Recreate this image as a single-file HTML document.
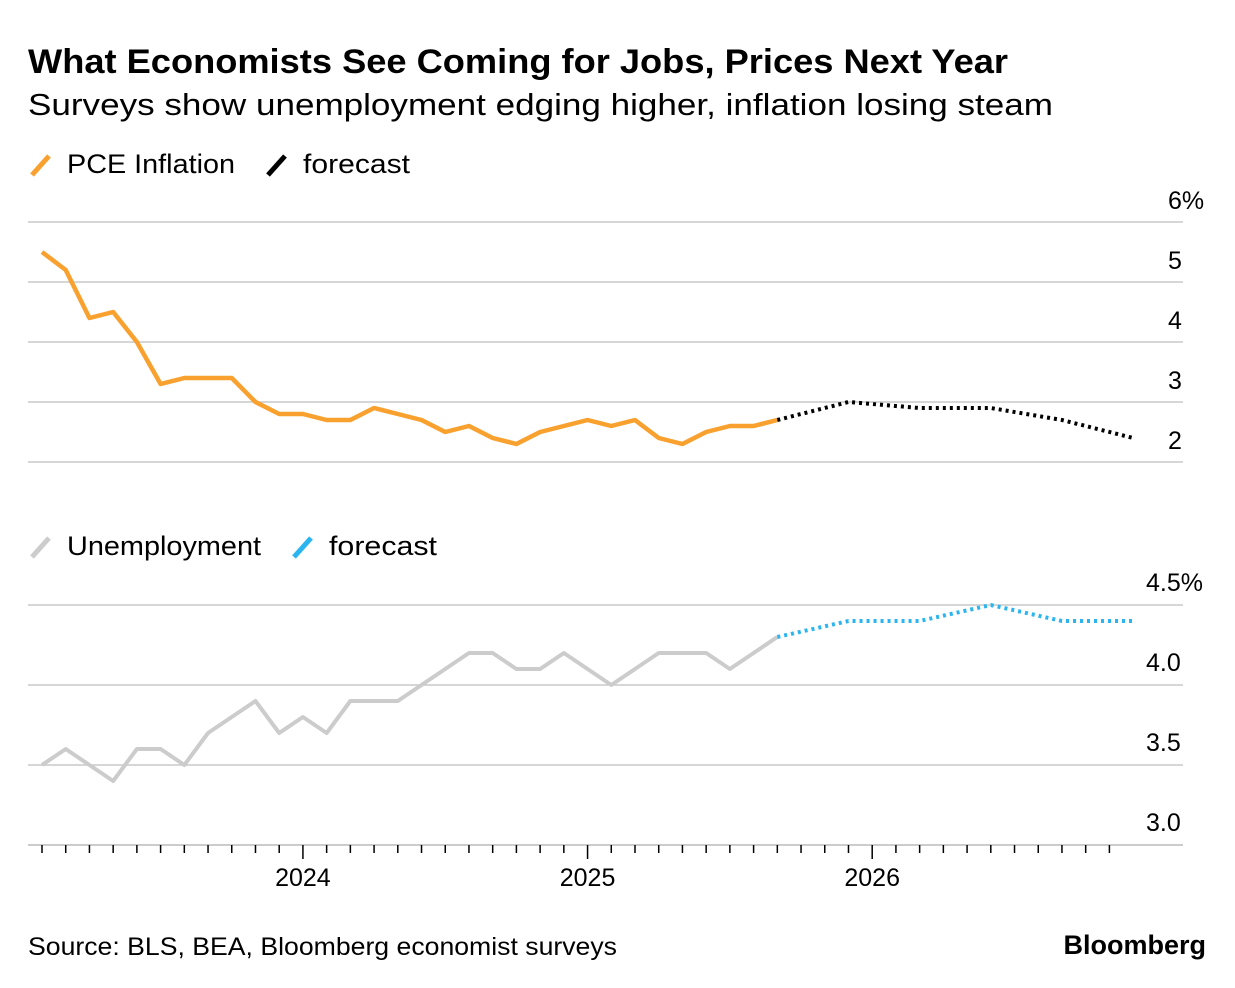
<!DOCTYPE html>
<html><head><meta charset="utf-8"><style>
body{margin:0;background:#fff;font-family:"Liberation Sans",Arial,sans-serif;}
#wrap{position:relative;width:1235px;height:988px;overflow:hidden;}
</style></head><body>
<div id="wrap">
<svg id="svg" width="1235" height="988" xmlns="http://www.w3.org/2000/svg" font-family="Liberation Sans, Arial, sans-serif">
<text x="28" y="73" font-size="34" font-weight="bold" fill="#000" textLength="980" lengthAdjust="spacingAndGlyphs">What Economists See Coming for Jobs, Prices Next Year</text>
<text x="28" y="115" font-size="31" fill="#000" textLength="1025" lengthAdjust="spacingAndGlyphs">Surveys show unemployment edging higher, inflation losing steam</text>
<g><line x1="32" y1="175" x2="49" y2="156" stroke="#f9a12e" stroke-width="5"/><text x="67" y="173" font-size="27" textLength="168" lengthAdjust="spacingAndGlyphs">PCE Inflation</text></g>
<g><line x1="268" y1="175" x2="285" y2="156" stroke="#000" stroke-width="5"/><text x="303" y="173" font-size="27" textLength="107" lengthAdjust="spacingAndGlyphs">forecast</text></g>
<g><line x1="32" y1="557" x2="49" y2="538" stroke="#ccc" stroke-width="5"/><text x="67" y="555" font-size="27" textLength="194" lengthAdjust="spacingAndGlyphs">Unemployment</text></g>
<g><line x1="294" y1="557" x2="311" y2="538" stroke="#2bb5f0" stroke-width="5"/><text x="329" y="555" font-size="27" textLength="108" lengthAdjust="spacingAndGlyphs">forecast</text></g>
<g id="gtop"></g><g id="gbot"></g><g id="gaxis"></g>
<text x="28" y="955" font-size="25" textLength="589" lengthAdjust="spacingAndGlyphs">Source: BLS, BEA, Bloomberg economist surveys</text>
<text x="1206" y="954" font-size="27" font-weight="bold" text-anchor="end">Bloomberg</text>
</svg></div>
<script>
const pceValues=[5.5,5.2,4.4,4.5,4.0,3.3,3.4,3.4,3.4,3.0,2.8,2.8,2.7,2.7,2.9,2.8,2.7,2.5,2.6,2.4,2.3,2.5,2.6,2.7,2.6,2.7,2.4,2.3,2.5,2.6,2.6,2.7];
const pceForecastIdx=[31,34,37,40,43,46];
const pceForecast=[2.7,3.0,2.9,2.9,2.7,2.4];
const unempValues=[3.5,3.6,3.5,3.4,3.6,3.6,3.5,3.7,3.8,3.9,3.7,3.8,3.7,3.9,3.9,3.9,4.0,4.1,4.2,4.2,4.1,4.1,4.2,4.1,4.0,4.1,4.2,4.2,4.2,4.1,4.2,4.3];
const unempForecast=[4.3,4.4,4.4,4.5,4.4,4.4];
const pceTicks=[6,5,4,3,2];
const pceTickLabels=["6%","5","4","3","2"];
const unempTicks=[4.5,4.0,3.5,3.0];
const unempTickLabels=["4.5%","4.0","3.5","3.0"];
const yearLabels=["2024","2025","2026"];
const yearIdx=[11,23,35];
const NS="http://www.w3.org/2000/svg";
const X=i=>42+i*23.72;
const yTop=v=>462-(v-2)*60;
const yBot=v=>845-(v-3)*160;
function mk(tag,attrs,parent){const e=document.createElementNS(NS,tag);for(const k in attrs)e.setAttribute(k,attrs[k]);parent.appendChild(e);return e;}
const gTop=document.getElementById('gtop'),gBot=document.getElementById('gbot'),gAxis=document.getElementById('gaxis');
pceTicks.forEach((t,k)=>{
 const l=mk('line',{x1:28,x2:1183,y1:yTop(t),y2:yTop(t),stroke:'#c8c8c8','stroke-width':1.5},gTop);
 
 
 const tx=mk('text',{x:1168,y:yTop(t)-13,'font-size':25,'text-anchor':'start'},gTop);tx.textContent=pceTickLabels[k];
 
 
});
unempTicks.forEach((t,k)=>{
 const l=mk('line',{x1:28,x2:1183,y1:yBot(t),y2:yBot(t),stroke:t===3?'#bbb':'#c8c8c8','stroke-width':1.5},gBot);
 
 
 const tx=mk('text',{x:1146,y:yBot(t)-14,'font-size':25,'text-anchor':'start'},gBot);tx.textContent=unempTickLabels[k];
 
 
});
const p1=mk('polyline',{points:pceValues.map((v,i)=>X(i)+','+yTop(v)).join(' '),fill:'none',stroke:'#f9a12e','stroke-width':4.5,'stroke-linejoin':'round'},gTop);


const p2=mk('polyline',{points:pceForecast.map((v,i)=>X(pceForecastIdx[i])+','+yTop(v)).join(' '),fill:'none',stroke:'#000','stroke-width':4,'stroke-dasharray':'3 4'},gTop);


const p3=mk('polyline',{points:unempValues.map((v,i)=>X(i)+','+yBot(v)).join(' '),fill:'none',stroke:'#cccccc','stroke-width':4,'stroke-linejoin':'round'},gBot);


const p4=mk('polyline',{points:unempForecast.map((v,i)=>X(pceForecastIdx[i])+','+yBot(v)).join(' '),fill:'none',stroke:'#2bb5f0','stroke-width':4,'stroke-dasharray':'3 4'},gBot);


for(let i=0;i<=45;i++){
 const major=yearIdx.includes(i);
 const t=mk('line',{x1:X(i),x2:X(i),y1:845,y2:major?859:853,stroke:'#000','stroke-width':1.5},gAxis);
 
 
}
yearLabels.forEach((s,k)=>{
 const tx=mk('text',{x:X(yearIdx[k]),y:886,'font-size':25,'text-anchor':'middle'},gAxis);tx.textContent=s;
 
 
});
</script>
</body></html>
